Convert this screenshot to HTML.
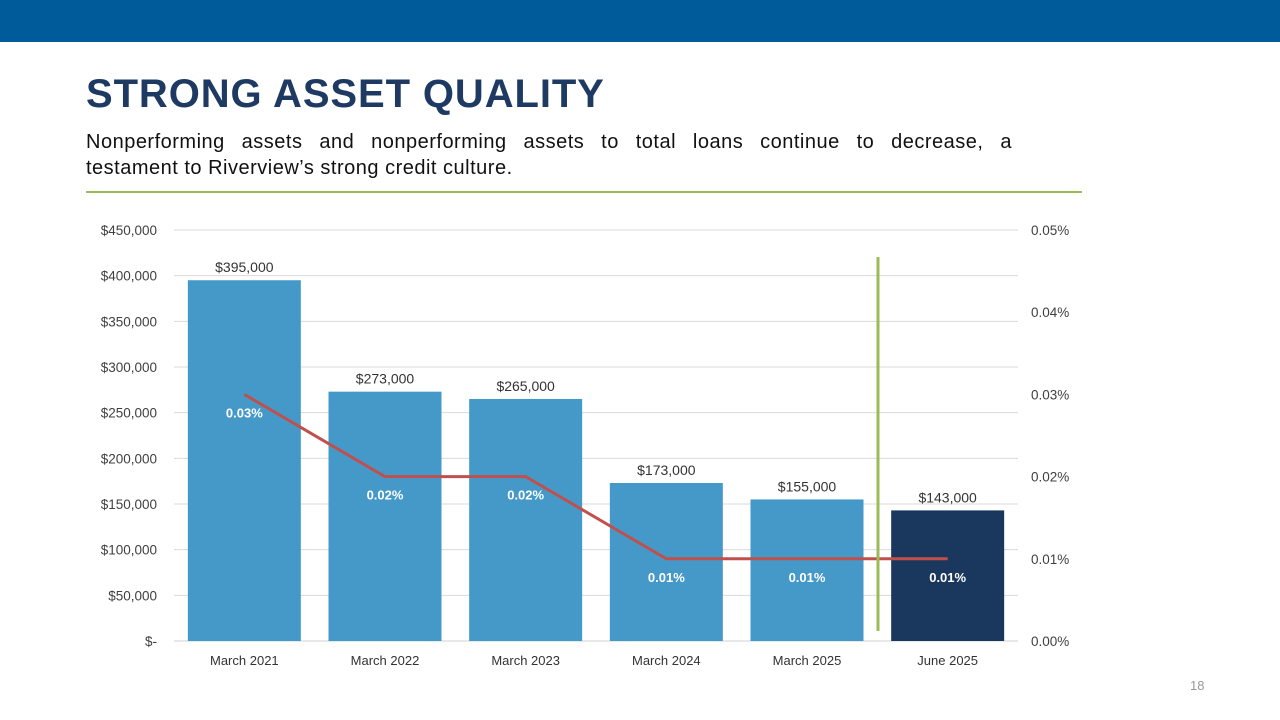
<!DOCTYPE html>
<html><head><meta charset="utf-8"><style>
body{margin:0;width:1280px;height:720px;background:#fff;position:relative;overflow:hidden;font-family:"Liberation Sans",sans-serif}
#topbar{position:absolute;left:0;top:0;width:1280px;height:42px;background:#005b9b}
#title{position:absolute;left:86px;top:72px;font-size:40px;font-weight:bold;color:#1e3a63;letter-spacing:0.9px;white-space:nowrap}
.sub{position:absolute;left:86px;font-size:20px;line-height:26px;color:#111;white-space:nowrap;letter-spacing:0.5px}
#sub1{top:129px;width:926px;text-align:justify;text-align-last:justify}
#sub2{top:155px}
#rule{position:absolute;left:86px;top:191px;width:996px;height:2px;background:#9bbb59}
#pagenum{position:absolute;left:1190px;top:678px;font-size:13px;color:#999}
svg{position:absolute;left:0;top:0}
</style></head><body>
<div id="topbar"></div>
<div id="title">STRONG ASSET QUALITY</div>
<div id="sub1" class="sub">Nonperforming assets and nonperforming assets to total loans continue to decrease, a</div>
<div id="sub2" class="sub">testament to Riverview’s strong credit culture.</div>
<div id="rule"></div>
<div id="pagenum">18</div>
<svg id="chart" width="1280" height="720"></svg>
<script>
const categories=["March 2021","March 2022","March 2023","March 2024","March 2025","June 2025"];
const npaValues=[395000,273000,265000,173000,155000,143000];
const npaLabels=["$395,000","$273,000","$265,000","$173,000","$155,000","$143,000"];
const ratioValues=[0.03,0.02,0.02,0.01,0.01,0.01];
const ratioLabels=["0.03%","0.02%","0.02%","0.01%","0.01%","0.01%"];
const leftTicks=[0,50000,100000,150000,200000,250000,300000,350000,400000,450000];
const leftTickLabels=["$-","$50,000","$100,000","$150,000","$200,000","$250,000","$300,000","$350,000","$400,000","$450,000"];
const rightTicks=[0,0.01,0.02,0.03,0.04,0.05];
const rightTickLabels=["0.00%","0.01%","0.02%","0.03%","0.04%","0.05%"];

const svg=document.getElementById('chart');const NS="http://www.w3.org/2000/svg";
const X0=174,X1=1018,Y0=641,Y1=230;
const band=(X1-X0)/categories.length;
const yL=v=>Y0-(v/450000)*(Y0-Y1);
const yR=v=>Y0-(v/0.05)*(Y0-Y1);
const xC=i=>X0+band*(i+0.5);
function mk(t,a,txt){const e=document.createElementNS(NS,t);for(const k in a)e.setAttribute(k,a[k]);if(txt!==undefined)e.textContent=txt;svg.appendChild(e);return e;}
leftTicks.forEach((v,i)=>{
 if(i>0){const g=mk('line',{x1:X0,x2:X1,y1:yL(v),y2:yL(v),stroke:'#d9d9d9','stroke-width':1});
 
 }
 const t=mk('text',{x:157,y:yL(v)+5,'text-anchor':'end','font-size':13.5,fill:'#404040'},leftTickLabels[i]);
 
 
});
const ax=mk('line',{x1:X0,x2:X1,y1:Y0,y2:Y0,stroke:'#d0d0d0','stroke-width':1});


rightTicks.forEach((v,i)=>{
 const t=mk('text',{x:1031,y:yR(v)+5,'font-size':13.5,fill:'#404040'},rightTickLabels[i]);
 
 
});
const bw=113;
npaValues.forEach((v,i)=>{
 const b=mk('rect',{x:xC(i)-bw/2,y:yL(v),width:bw,height:Y0-yL(v),fill:i===5?'#1a375e':'#4599c9'});
 
 
 const l=mk('text',{x:xC(i),y:yL(v)-8,'text-anchor':'middle','font-size':14,fill:'#333'},npaLabels[i]);
 
 
 const c=mk('text',{x:xC(i),y:665,'text-anchor':'middle','font-size':13,fill:'#333'},categories[i]);
 
 
});
const pts=ratioValues.map((v,i)=>xC(i)+','+yR(v)).join(' ');
const pl=mk('polyline',{points:pts,fill:'none',stroke:'#c0504d','stroke-width':3});


ratioValues.forEach((v,i)=>{
 const t=mk('text',{x:xC(i),y:yR(v)+23,'text-anchor':'middle','font-size':13,'font-weight':'bold',fill:'#fff'},ratioLabels[i]);
 
 
});
const sep=mk('line',{x1:878,x2:878,y1:257,y2:631,stroke:'#9bbb59','stroke-width':3});


</script>
</body></html>
